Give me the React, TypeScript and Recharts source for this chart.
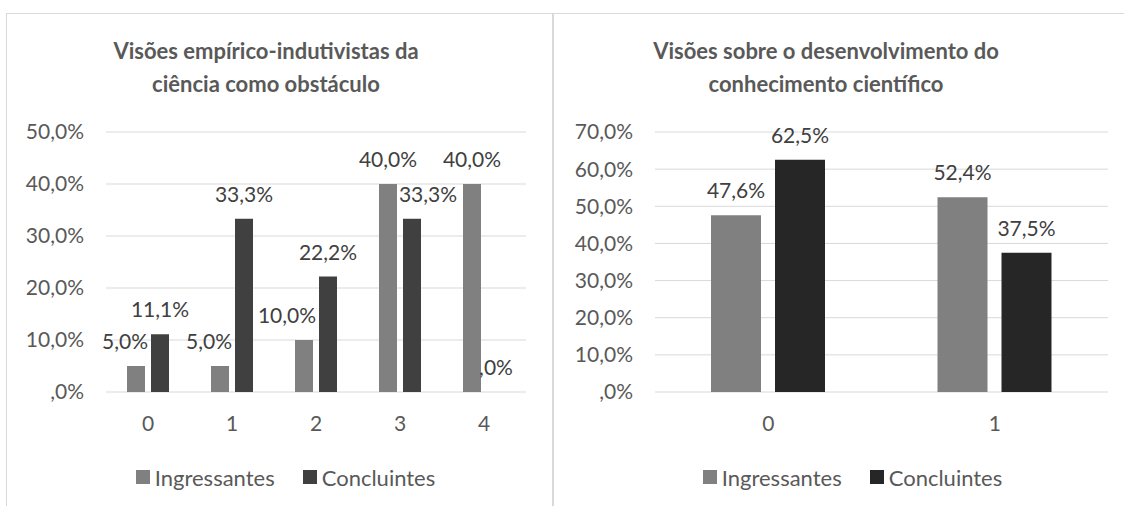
import React from 'react';
import { BarChart, Bar, XAxis, YAxis, CartesianGrid, LabelList } from 'recharts';

// ---------- data ----------
const seriesNames = ['Ingressantes', 'Concluintes'];

const leftTitle = ['Visões empírico-indutivistas da', 'ciência como obstáculo'];
const leftCategories = ['0', '1', '2', '3', '4'];
const leftIngressantes = [5.0, 5.0, 10.0, 40.0, 40.0];
const leftConcluintes = [11.1, 33.3, 22.2, 33.3, 0.0];
const leftTicks = [0, 10, 20, 30, 40, 50];

const rightTitle = ['Visões sobre o desenvolvimento do', 'conhecimento científico'];
const rightCategories = ['0', '1'];
const rightIngressantes = [47.6, 52.4];
const rightConcluintes = [62.5, 37.5];
const rightTicks = [0, 10, 20, 30, 40, 50, 60, 70];

// ---------- styling ----------
const FONT = 'Lato, "Open Sans", sans-serif';
const TEXT = '#595959';
const LABEL = '#404040';
const GRID = '#d9d9d9';
const ING_COLOR = '#808080';
const LEFT_CON_COLOR = '#404040';
const RIGHT_CON_COLOR = '#262626';
const FS = 21;
// Excel nudged some overlapping data labels sideways (style only)
const leftIngLabelDx = [-11, -11, -17, 0, 0];
const leftConLabelDx = [0, 0, 0, 16, 0];

const fmt = (v: number) => (v === 0 ? ',0%' : v.toFixed(1).replace('.', ',') + '%');

const leftData = leftCategories.map((c, i) => ({ cat: c, ing: leftIngressantes[i], con: leftConcluintes[i] }));
const rightData = rightCategories.map((c, i) => ({ cat: c, ing: rightIngressantes[i], con: rightConcluintes[i] }));

const makeLabel = (dxs: number[] | null) => (props: any) => {
  const { x, y, width, height, value, index } = props;
  const dx = dxs ? dxs[index] || 0 : 0;
  const top = Math.min(Number(y), Number(y) + Number(height || 0));
  return (
    <text
      x={Number(x) + Number(width) / 2 + dx}
      y={top - 17}
      textAnchor="middle"
      fill={LABEL}
      fontSize={FS}
      fontFamily={FONT}
    >
      {fmt(Number(value))}
    </text>
  );
};

const Title = ({ lines, left, width }: { lines: string[]; left: number; width: number }) => (
  <div
    style={{
      position: 'absolute',
      left,
      width,
      top: 34,
      textAlign: 'center',
      fontFamily: FONT,
      fontWeight: 700,
      fontSize: 22,
      lineHeight: '33px',
      color: TEXT,
      whiteSpace: 'nowrap',
    }}
  >
    {lines.map((l) => (
      <div key={l}>{l}</div>
    ))}
  </div>
);

const LegendBox = ({ left, width, conColor }: { left: number; width: number; conColor: string }) => (
  <div
    style={{
      position: 'absolute',
      left,
      width,
      top: 464,
      height: 26,
      display: 'flex',
      justifyContent: 'center',
      alignItems: 'center',
      fontFamily: FONT,
      fontSize: 22,
      color: TEXT,
    }}
  >
    {seriesNames.map((n, i) => (
      <div key={n} style={{ display: 'flex', alignItems: 'center', marginLeft: i === 0 ? 0 : 28 }}>
        <div style={{ width: 14, height: 14, background: i === 0 ? ING_COLOR : conColor, marginRight: 5 }} />
        <span>{n}</span>
      </div>
    ))}
  </div>
);

const CHART_H = 493;
const tickStyle = { fontSize: FS, fill: TEXT, fontFamily: FONT };

export default function App() {
  return (
    <div
      style={{
        position: 'absolute',
        left: 0,
        top: 0,
        width: 1124,
        height: 506,
        overflow: 'hidden',
        background: '#ffffff',
      }}
    >
      {/* frames */}
      <div style={{ position: 'absolute', left: 6, top: 13, width: 545, height: 600, border: `1px solid ${GRID}` }} />
      <div style={{ position: 'absolute', left: 553, top: 13, width: 600, height: 600, border: `1px solid ${GRID}` }} />

      {/* left chart */}
      <div style={{ position: 'absolute', left: 6, top: 13 }}>
        <BarChart
          width={547}
          height={CHART_H}
          data={leftData}
          margin={{ top: 119, right: 27, bottom: 74, left: 0 }}
          barSize={18}
          barGap={6}
        >
          <CartesianGrid horizontal vertical={false} stroke={GRID} strokeWidth={1} />
          <XAxis
            dataKey="cat"
            axisLine={false}
            tickLine={false}
            tickSize={0}
            tickMargin={24}
            height={40}
            interval={0}
            tick={tickStyle}
          />
          <YAxis
            type="number"
            domain={[0, 50]}
            ticks={leftTicks}
            interval={0}
            width={100}
            axisLine={false}
            tickLine={false}
            tickSize={0}
            tickMargin={22}
            tickFormatter={fmt}
            tick={tickStyle}
          />
          <Bar dataKey="ing" name={seriesNames[0]} fill={ING_COLOR} isAnimationActive={false}>
            <LabelList dataKey="ing" content={makeLabel(leftIngLabelDx)} />
          </Bar>
          <Bar dataKey="con" name={seriesNames[1]} fill={LEFT_CON_COLOR} minPointSize={0.01} isAnimationActive={false}>
            <LabelList dataKey="con" content={makeLabel(leftConLabelDx)} />
          </Bar>
        </BarChart>
      </div>

      {/* right chart */}
      <div style={{ position: 'absolute', left: 553, top: 13 }}>
        <BarChart
          width={587}
          height={CHART_H}
          data={rightData}
          margin={{ top: 119, right: 32, bottom: 74, left: 0 }}
          barSize={50}
          barGap={14}
        >
          <CartesianGrid horizontal vertical={false} stroke={GRID} strokeWidth={1} />
          <XAxis
            dataKey="cat"
            axisLine={false}
            tickLine={false}
            tickSize={0}
            tickMargin={24}
            height={40}
            interval={0}
            tick={tickStyle}
          />
          <YAxis
            type="number"
            domain={[0, 70]}
            ticks={rightTicks}
            interval={0}
            width={102}
            axisLine={false}
            tickLine={false}
            tickSize={0}
            tickMargin={22}
            tickFormatter={fmt}
            tick={tickStyle}
          />
          <Bar dataKey="ing" name={seriesNames[0]} fill={ING_COLOR} isAnimationActive={false}>
            <LabelList dataKey="ing" content={makeLabel(null)} />
          </Bar>
          <Bar dataKey="con" name={seriesNames[1]} fill={RIGHT_CON_COLOR} isAnimationActive={false}>
            <LabelList dataKey="con" content={makeLabel(null)} />
          </Bar>
        </BarChart>
      </div>

      <Title lines={leftTitle} left={6} width={520} />
      <Title lines={rightTitle} left={553} width={546} />
      <LegendBox left={12} width={547} conColor={LEFT_CON_COLOR} />
      <LegendBox left={559} width={587} conColor={RIGHT_CON_COLOR} />
    </div>
  );
}
